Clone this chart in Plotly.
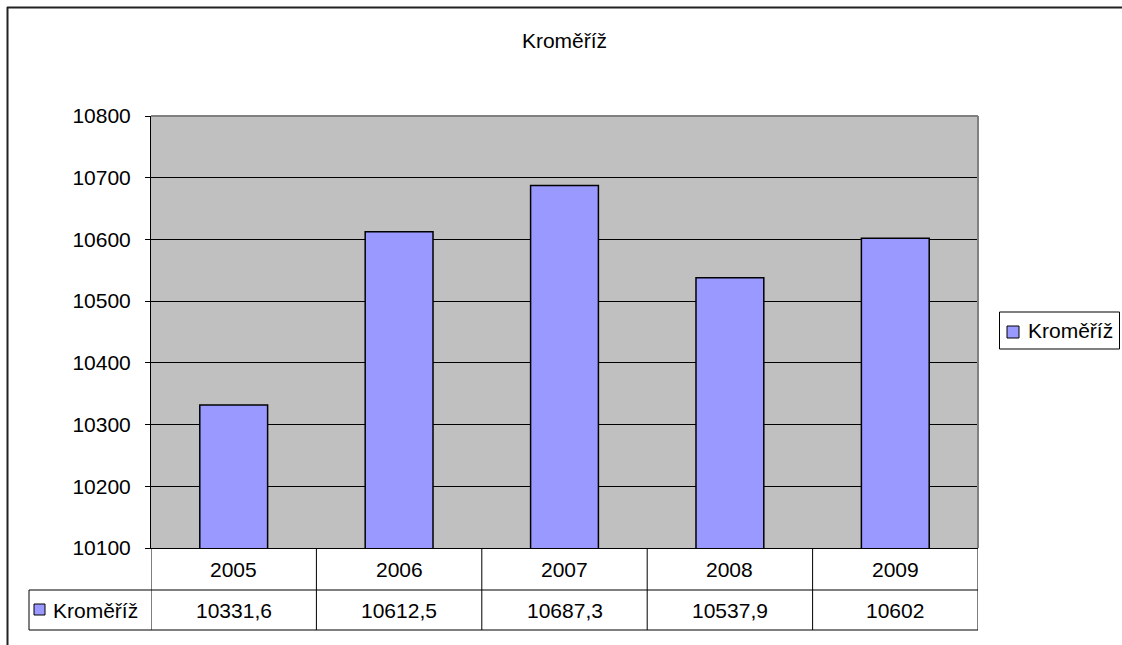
import plotly.graph_objects as go

title = "Kroměříž"
series_name = "Kroměříž"
years = ["2005", "2006", "2007", "2008", "2009"]
values = [10331.6, 10612.5, 10687.3, 10537.9, 10602]
value_labels = ["10331,6", "10612,5", "10687,3", "10537,9", "10602"]

W, H = 1122, 645
L, R, T, B = 151, 144, 116, 97
PW, PH = W - L - R, H - T - B

def px(x):
    return (x - L) / PW

def py(y):
    return (H - B - y) / PH

FONT = "Liberation Sans, Arial, sans-serif"
FS = 21
BAR_COLOR = "#9999FF"

fig = go.Figure()
fig.add_trace(go.Bar(
    x=years, y=values, name=series_name,
    marker=dict(color=BAR_COLOR, line=dict(color="black", width=1.5)),
))

shapes = []
annotations = []

# outer chart border (left and top visible)
shapes.append(dict(type="line", xref="paper", yref="paper", x0=px(7), x1=px(1130), y0=py(7.5), y1=py(7.5),
                   line=dict(color="#222", width=2)))
shapes.append(dict(type="line", xref="paper", yref="paper", x0=px(7.5), x1=px(7.5), y0=py(7), y1=py(660),
                   line=dict(color="#222", width=2)))

# plot area border top/right gray
shapes.append(dict(type="line", xref="paper", yref="paper", x0=0, x1=1, y0=1, y1=1,
                   line=dict(color="#808080", width=2)))
shapes.append(dict(type="line", xref="paper", yref="paper", x0=1, x1=1, y0=0, y1=1,
                   line=dict(color="#808080", width=2)))

# data table
y_row1_bot = py(590)
y_row2_bot = py(630)
shapes.append(dict(type="line", xref="paper", yref="paper", x0=px(29), x1=1, y0=y_row1_bot, y1=y_row1_bot,
                   line=dict(color="black", width=1)))
shapes.append(dict(type="line", xref="paper", yref="paper", x0=px(29), x1=1, y0=y_row2_bot, y1=y_row2_bot,
                   line=dict(color="black", width=1)))
shapes.append(dict(type="line", xref="paper", yref="paper", x0=px(29), x1=px(29), y0=y_row1_bot, y1=y_row2_bot,
                   line=dict(color="black", width=1)))
for i in range(len(years) + 1):
    shapes.append(dict(type="line", xref="x", yref="paper", x0=i - 0.5, x1=i - 0.5, y0=0, y1=y_row2_bot,
                       line=dict(color="black", width=1)))

for i, (yr, lab) in enumerate(zip(years, value_labels)):
    annotations.append(dict(x=i, y=py(569), xref="x", yref="paper", text=yr, showarrow=False,
                            font=dict(family=FONT, size=FS, color="black"), xanchor="center", yanchor="middle"))
    annotations.append(dict(x=i, y=py(610), xref="x", yref="paper", text=lab, showarrow=False,
                            font=dict(family=FONT, size=FS, color="black"), xanchor="center", yanchor="middle"))

# legend key in table
shapes.append(dict(type="rect", xref="paper", yref="paper", x0=px(34), x1=px(45), y0=py(604), y1=py(615),
                   fillcolor=BAR_COLOR, line=dict(color="black", width=1)))
annotations.append(dict(x=px(51), y=py(610), xref="paper", yref="paper", text=series_name, showarrow=False,
                        font=dict(family=FONT, size=FS, color="black"), xanchor="left", yanchor="middle"))

# legend box (drawn manually)
shapes.append(dict(type="rect", xref="paper", yref="paper", x0=px(999.5), x1=px(1119.5), y0=py(312), y1=py(349),
                   fillcolor="white", line=dict(color="black", width=1)))
shapes.append(dict(type="rect", xref="paper", yref="paper", x0=px(1007), x1=px(1019), y0=py(326), y1=py(338),
                   fillcolor=BAR_COLOR, line=dict(color="black", width=1)))
annotations.append(dict(x=px(1026), y=py(330.5), xref="paper", yref="paper", text=series_name, showarrow=False,
                        font=dict(family=FONT, size=FS, color="black"), xanchor="left", yanchor="middle"))

fig.update_layout(
    width=W, height=H,
    margin=dict(l=L, r=R, t=T, b=B, pad=0, autoexpand=False),
    paper_bgcolor="white",
    plot_bgcolor="#C0C0C0",
    font=dict(family=FONT, size=FS, color="black"),
    title=dict(text=title, x=0.5, xref="paper", y=1 - 41 / H, yanchor="middle",
               font=dict(family=FONT, size=FS, color="black")),
    bargap=0.59,
    showlegend=False,
    xaxis=dict(type="category", range=[-0.5, len(years) - 0.5], showticklabels=False, showgrid=False,
               showline=True, linecolor="black", linewidth=1, ticks="", zeroline=False, fixedrange=True),
    yaxis=dict(range=[10100, 10800], dtick=100, tick0=10100, tickformat="d", showgrid=True,
               gridcolor="black", gridwidth=1,
               showline=True, linecolor="black", linewidth=1, ticks="outside", ticklen=5, tickcolor="black",
               tickfont=dict(family=FONT, size=FS, color="black"), zeroline=False, ticklabelstandoff=10),
    shapes=shapes,
    annotations=annotations,
)

fig.write_html("out.html", config={"displayModeBar": False},
               post_script="document.body.style.margin='0';document.body.style.overflow='hidden';")
